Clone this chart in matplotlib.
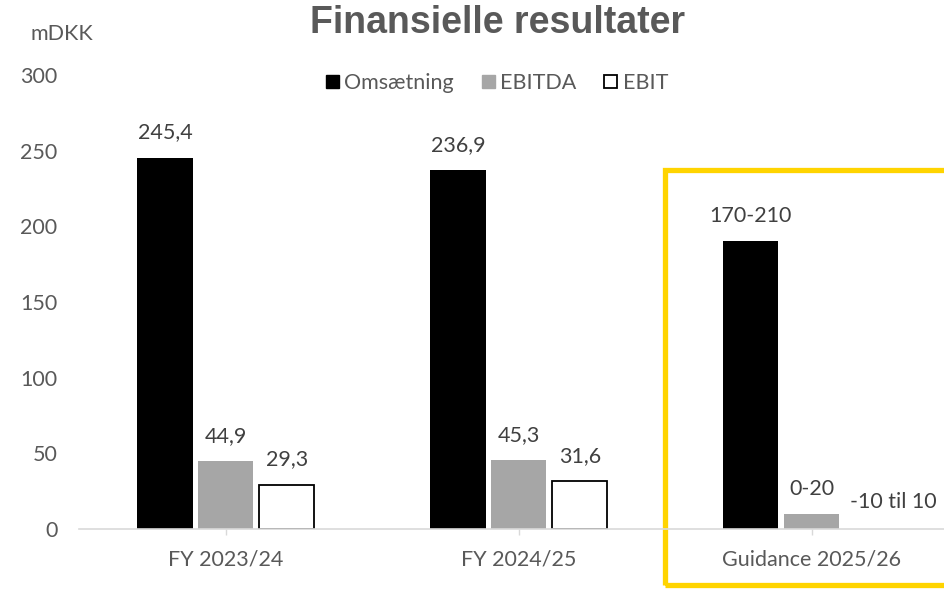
import numpy as np
import matplotlib.pyplot as plt
from matplotlib.patches import Patch, Rectangle
import matplotlib.transforms as mtransforms

# data
categories = ['FY 2023/24', 'FY 2024/25', 'Guidance 2025/26']
omsaetning = [245.4, 236.9, 190]
ebitda = [44.9, 45.3, 10]
ebit = [29.3, 31.6, 0]
lbl_omsaetning = ['245,4', '236,9', '170-210']
lbl_ebitda = ['44,9', '45,3', '0-20']
lbl_ebit = ['29,3', '31,6', '-10 til 10']

plt.rcParams['font.family'] = ['Lato', 'DejaVu Sans']
txt = '#595959'
lab = '#404040'
fs = 15.5

fig = plt.figure(figsize=(9.45, 5.89), dpi=100)
ax = fig.add_axes([0.0841, 0.1019, 0.930, 0.7708])

x = np.arange(len(categories))
w = 0.188
off = 0.208
b1 = ax.bar(x - off, omsaetning, w, color='black', label='Omsætning')
b2 = ax.bar(x, ebitda, w, color='#A6A6A6', label='EBITDA')
b3 = ax.bar(x + off, ebit, w, color='white', edgecolor='black', linewidth=1.3, label='EBIT')
b3[2].set_visible(False)

ax.bar_label(b1, labels=lbl_omsaetning, padding=11, fontsize=fs, color=lab)
ax.bar_label(b2, labels=lbl_ebitda, padding=11, fontsize=fs, color=lab)
ann = ax.bar_label(b3, labels=lbl_ebit, padding=11, fontsize=fs, color=lab)
ann[2].xyann = (15, 12)  # guidance label pushed right like in the original

ax.set_xlim(-0.5, 2.5)
ax.set_ylim(0, 300)
ax.set_yticks(range(0, 301, 50))
ax.set_xticks(x)
ax.set_xticklabels(categories)
ax.tick_params(axis='y', length=0, pad=16, labelsize=fs, labelcolor=txt)
ax.tick_params(axis='x', length=4, width=1, color='#D9D9D9', pad=11, labelsize=fs, labelcolor=txt)
for s in ['top', 'right', 'left']:
    ax.spines[s].set_visible(False)
ax.spines['bottom'].set_color('#D9D9D9')
ax.spines['bottom'].set_linewidth(1.2)

# guidance frame
trans = mtransforms.blended_transform_factory(ax.transData, ax.transAxes)
ax.add_patch(Rectangle((1.5, -0.123), 1.2, 0.914, transform=trans, fill=False,
                       edgecolor='#FFD400', linewidth=3.8, clip_on=False))

fig.text(0.526, 0.961, 'Finansielle resultater', ha='center', va='center',
         fontsize=27, fontweight='bold', color=txt, family=['Liberation Sans', 'DejaVu Sans'])
fig.text(0.066, 0.943, 'mDKK', ha='center', va='center', fontsize=fs, color=txt)

handles = [Patch(facecolor='black', edgecolor='black'),
           Patch(facecolor='#A6A6A6', edgecolor='#A6A6A6'),
           Patch(facecolor='white', edgecolor='black', linewidth=1.3)]
fig.legend(handles, ['Omsætning', 'EBITDA', 'EBIT'], loc='center', ncol=3,
           bbox_to_anchor=(0.526, 0.859), frameon=False, fontsize=fs,
           handlelength=0.6, handleheight=0.6, handletextpad=0.25, columnspacing=1.3,
           labelcolor=txt)

fig.savefig('out.png', dpi=100)
